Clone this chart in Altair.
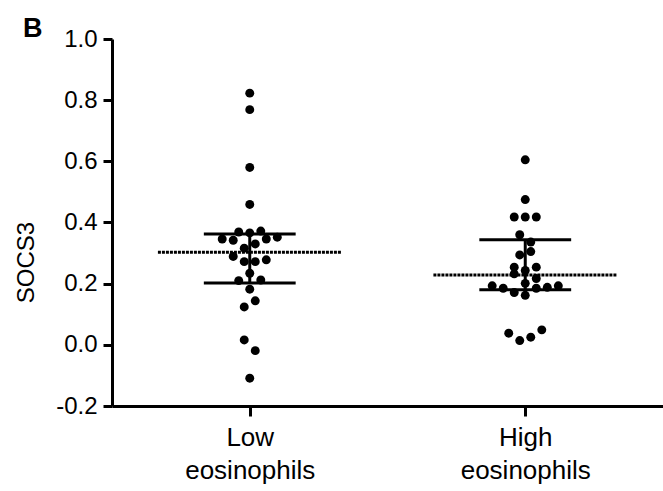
import altair as alt
import pandas as pd

# ---- data ----
groups = ["Low eosinophils", "High eosinophils"]
group_pos = [1, 2]

low_values = [0.823, 0.769, 0.580, 0.459,
              0.369, 0.366, 0.372,
              0.346, 0.342, 0.346, 0.352,
              0.330, 0.316, 0.289,
              0.272, 0.272, 0.278,
              0.234, 0.210, 0.212, 0.182,
              0.144, 0.124, 0.016, -0.019, -0.109]
low_slots = [0, 0, 0, 0,
             -2, 0, 2,
             -5, -3, 3, 5,
             1, -1, -3,
             -1, 1, 3,
             0, -2, 2, 0,
             1, -1, -1, 1, 0]

high_values = [0.605, 0.475,
               0.418, 0.418, 0.418,
               0.360, 0.336, 0.294, 0.305,
               0.254, 0.254, 0.243, 0.232, 0.217,
               0.193, 0.185, 0.201, 0.185, 0.188, 0.193,
               0.171, 0.162,
               0.038, 0.014, 0.025, 0.049]
high_slots = [0, 0,
              -2, 0, 2,
              -1, 1, -1, 1,
              -2, 2, 0, -2, 2,
              -6, -4, 0, 2, 4, 6,
              -2, 0,
              -3, -1, 1, 3]

center_vals = [0.303, 0.228]
upper_vals = [0.362, 0.344]
lower_vals = [0.202, 0.180]

y_ticks = [-0.2, 0.0, 0.2, 0.4, 0.6, 0.8, 1.0]

# ---- tables ----
swarm_step = 0.02
rows = []
for vals, slots, g, p in [(low_values, low_slots, groups[0], group_pos[0]),
                          (high_values, high_slots, groups[1], group_pos[1])]:
    for v, s in zip(vals, slots):
        rows.append({"group": g, "x": p + s * swarm_step, "SOCS3": v})
points_df = pd.DataFrame(rows)

summary_df = pd.DataFrame({
    "group": groups,
    "pos": group_pos,
    "center": center_vals,
    "upper": upper_vals,
    "lower": lower_vals,
})
summary_df["wl"] = summary_df["pos"] - 1 / 3
summary_df["wr"] = summary_df["pos"] + 1 / 3
summary_df["nl"] = summary_df["pos"] - 1 / 6
summary_df["nr"] = summary_df["pos"] + 1 / 6

FONT = "Liberation Sans"

label_expr = " : ".join(
    f"datum.value == {p} ? {str(g.split(' ')).replace(chr(34), chr(39))}" for p, g in zip(group_pos, groups)
) + " : ''"

x_scale = alt.Scale(domain=[0.5, 2.5], nice=False, zero=False)
y_scale = alt.Scale(domain=[-0.2, 1.0], nice=False, zero=False)

x_axis = alt.Axis(values=group_pos, labelExpr=label_expr, title=None, grid=False,
                  domainWidth=3, domainColor="black", tickWidth=3, tickSize=10,
                  tickColor="black", labelFont=FONT, labelFontSize=26,
                  labelLineHeight=33, labelPadding=8, labelColor="black",
                  labelBaseline="top")
y_axis = alt.Axis(values=y_ticks,
                  labelExpr="(datum.value < 0 ? '-' : '') + format(abs(datum.value), '.1f')",
                  title="SOCS3", grid=False, domainWidth=3, domainColor="black",
                  tickWidth=3, tickSize=9, tickColor="black", labelFont=FONT,
                  labelFontSize=24, labelPadding=6, labelColor="black",
                  titleFont=FONT, titleFontSize=24, titleFontWeight="normal",
                  titleColor="black", titleX=-86, titleY=223, titleAngle=-90,
                  titleAlign="center", titleBaseline="middle")

pts = alt.Chart(points_df).mark_circle(size=80, color="black", opacity=1).encode(
    x=alt.X("x:Q", scale=x_scale, axis=x_axis),
    y=alt.Y("SOCS3:Q", scale=y_scale, axis=y_axis),
)

base = alt.Chart(summary_df)
center_line = base.mark_rule(color="black", strokeWidth=3, strokeDash=[3, 1]).encode(
    x=alt.X("wl:Q", scale=x_scale), x2="wr:Q", y=alt.Y("center:Q", scale=y_scale))
upper_cap = base.mark_rule(color="black", strokeWidth=3).encode(
    x=alt.X("nl:Q", scale=x_scale), x2="nr:Q", y=alt.Y("upper:Q", scale=y_scale))
lower_cap = base.mark_rule(color="black", strokeWidth=3).encode(
    x=alt.X("nl:Q", scale=x_scale), x2="nr:Q", y=alt.Y("lower:Q", scale=y_scale))
stem = base.mark_rule(color="black", strokeWidth=3).encode(
    x=alt.X("pos:Q", scale=x_scale), y=alt.Y("lower:Q", scale=y_scale), y2="upper:Q")

panel = alt.Chart(pd.DataFrame({"t": ["B"]})).mark_text(
    font=FONT, fontSize=27, fontWeight="bold", color="black", align="left", baseline="alphabetic"
).encode(text="t:N", x=alt.value(-89), y=alt.value(-2))

chart = alt.layer(pts, center_line, upper_cap, lower_cap, stem, panel).properties(
    width=551, height=367,
    background="white",
    autosize=alt.AutoSizeParams(type="none"),
    padding={"left": 112, "top": 39, "right": 0, "bottom": 85},
).configure_view(stroke=None)

chart.save("out.html", embed_options={"renderer": "svg", "actions": False})
